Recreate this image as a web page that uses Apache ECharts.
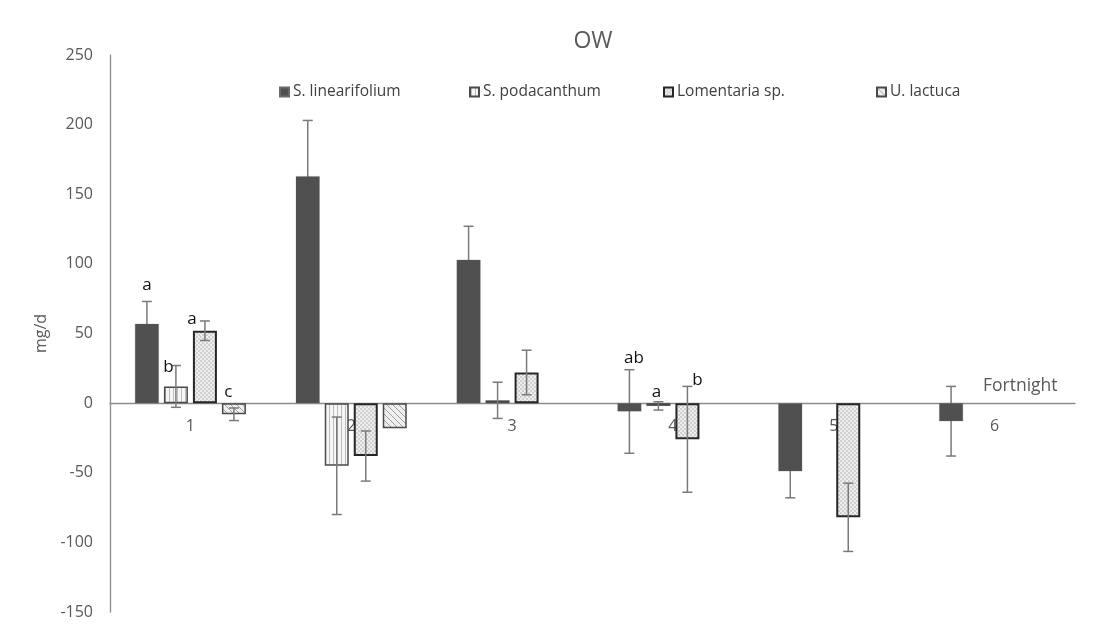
<!DOCTYPE html>
<html>
<head>
<meta charset="utf-8">
<script src="https://cdn.jsdelivr.net/npm/echarts@6/dist/echarts.min.js"></script>
<style>html,body{margin:0;padding:0;background:#fff}#c{width:1102px;height:631px}</style>
</head>
<body>
<div id="c"></div>
<script>
// ---- data ----
const categories = ['1', '2', '3', '4', '5', '6'];
const seriesNames = ['S. linearifolium', 'S. podacanthum', 'Lomentaria sp.', 'U. lactuca'];
const linearifolium = [57, 163, 103, -6, -49, -13];
const linearifoliumErr = [16, 40, 24, 30, 19, 25];
const podacanthum = [12, -45, 2, -2, null, null];
const podacanthumErr = [15, 35, 13, 3, null, null];
const lomentaria = [52, -38, 22, -26, -82, null];
const lomentariaErr = [7, 18, 16, 38, 24.5, null];
const lactuca = [-8, -18, null, null, null, null];
const lactucaErr = [4.5, null, null, null, null, null];
const linearifoliumLetters = ['a', '', '', 'ab', '', ''];
const podacanthumLetters = ['b', '', '', 'a', '', ''];
const lomentariaLetters = ['a', '', '', 'b', '', ''];
const lactucaLetters = ['c', '', '', '', '', ''];
const yTicks = { min: -150, max: 250, interval: 50 };

const values = [linearifolium, podacanthum, lomentaria, lactuca];
const errs = [linearifoliumErr, podacanthumErr, lomentariaErr, lactucaErr];
const letters = [linearifoliumLetters, podacanthumLetters, lomentariaLetters, lactucaLetters];

// ---- styles ----
const BAR_W = 24, GAP = 5;
const GRID = { left: 110, right: 27, top: 55, bottom: 19 };
const letterOffset = { '0-0': [0, -16], '1-0': [-7.5, 2], '2-0': [-13, -2], '3-0': [-5.5, -16],
  '0-3': [4.5, -12], '1-3': [-2, -9.5], '2-3': [10, -6] };

function pattern(kind) {
  const c = document.createElement('canvas');
  const ctx = c.getContext('2d');
  if (kind === 'stripe') {
    c.width = 4; c.height = 4;
    ctx.fillStyle = '#f5f5f5'; ctx.fillRect(0, 0, 4, 4);
    ctx.fillStyle = '#bdbdbd'; ctx.fillRect(1, 0, 1, 4);
  } else if (kind === 'check') {
    c.width = 4; c.height = 4;
    ctx.fillStyle = '#eeeeee'; ctx.fillRect(0, 0, 4, 4);
    ctx.fillStyle = '#d0d0d0'; ctx.fillRect(0, 0, 2, 2); ctx.fillRect(2, 2, 2, 2);
  } else {
    c.width = 6; c.height = 6;
    ctx.fillStyle = '#efefef'; ctx.fillRect(0, 0, 6, 6);
    ctx.strokeStyle = '#a0a0a0'; ctx.lineWidth = 1;
    ctx.beginPath();
    ctx.moveTo(-1, -1); ctx.lineTo(7, 7);
    ctx.moveTo(-1, 5); ctx.lineTo(1, 7);
    ctx.moveTo(5, -1); ctx.lineTo(7, 1);
    ctx.stroke();
  }
  return { image: c, repeat: 'repeat' };
}

const itemStyles = [
  { color: '#505050', borderColor: '#6a6a6a', borderWidth: 0.5, borderType: 'dotted' },
  { color: pattern('stripe'), borderColor: '#4a4a4a', borderWidth: 1.5 },
  { color: pattern('check'), borderColor: '#262626', borderWidth: 2 },
  { color: pattern('diag'), borderColor: '#4a4a4a', borderWidth: 1.5 }
];

const font = '"Open Sans", "Noto Sans", sans-serif';

const barSeries = seriesNames.map((n, i) => ({
  name: n, type: 'bar', data: values[i], barWidth: BAR_W, barGap: (GAP / BAR_W * 100) + '%',
  barCategoryGap: '31%', itemStyle: itemStyles[i], z: 3
}));

function buildErrData(filterFn) {
  const out = [];
  values.forEach((arr, si) => arr.forEach((v, ci) => {
    if (v !== null && filterFn(si)) out.push([ci, v, errs[si][ci] === null ? 0 : errs[si][ci], si]);
  }));
  return out;
}

function letterEl(api, ci, v, e, si) {
  const L = letters[si][ci];
  if (!L) return null;
  const x = api.coord([ci, v])[0] + (si - 1.5) * (BAR_W + GAP);
  const top = api.coord([ci, Math.max(v, v + e)])[1];
  const off = letterOffset[si + '-' + ci] || [0, -14];
  return { type: 'text', x: x + off[0], y: top + off[1],
    style: { text: L, fill: '#111', font: '17px ' + font, align: 'center', verticalAlign: 'middle' } };
}

function renderErr(params, api) {
  const ci = api.value(0), v = api.value(1), e = api.value(2), si = api.value(3);
  const center = api.coord([ci, v]);
  const x = center[0] + (si - 1.5) * (BAR_W + GAP);
  const children = [];
  if (e > 0) {
    const yHi = api.coord([ci, v + e])[1];
    const yLo = api.coord([ci, v - e])[1];
    const st = { stroke: '#7a7a7a', lineWidth: 1.5 };
    children.push({ type: 'line', shape: { x1: x, y1: yHi, x2: x, y2: yLo }, style: st });
    children.push({ type: 'line', shape: { x1: x - 5, y1: yHi, x2: x + 5, y2: yHi }, style: st });
    children.push({ type: 'line', shape: { x1: x - 5, y1: yLo, x2: x + 5, y2: yLo }, style: st });
  }
  if (si !== 0) {
    const t = letterEl(api, ci, v, e, si);
    if (t) children.push(t);
  }
  return { type: 'group', children: children };
}

// dark series error bars sit behind their bars; others in front
const errBehind = { type: 'custom', z: 1, silent: true, clip: false,
  data: buildErrData(si => si === 0), encode: { x: 0, y: 1 }, renderItem: renderErr };
const errFront = { type: 'custom', z: 5, silent: true, clip: false,
  data: buildErrData(si => si !== 0), encode: { x: 0, y: 1 }, renderItem: renderErr };
const letterDark = { type: 'custom', z: 6, silent: true, clip: false,
  data: buildErrData(si => si === 0), encode: { x: 0, y: 1 },
  renderItem: function (params, api) {
    return letterEl(api, api.value(0), api.value(1), api.value(2), api.value(3));
  } };

const legendLefts = [279, 469, 663, 876];
const legends = seriesNames.map((n, i) => ({
  data: [n], left: legendLefts[i], top: 84, itemWidth: 9, itemHeight: 9, itemGap: 5, padding: 0,
  icon: 'rect', selectedMode: false,
  textStyle: { color: '#404040', fontSize: 15.5, fontFamily: font, padding: [0, 0, 0, -1] }
}));

const plotH = 631 - GRID.top - GRID.bottom;
const zeroFromBottom = plotH * (0 - yTicks.min) / (yTicks.max - yTicks.min);

const chart = echarts.init(document.getElementById('c'), null, { renderer: 'canvas' });
chart.setOption({
  animation: false,
  backgroundColor: '#fff',
  title: { text: 'OW', left: 588, top: 25, textAlign: 'center',
    textStyle: { color: '#595959', fontSize: 23, fontWeight: 'normal', fontFamily: font } },
  legend: legends,
  grid: Object.assign({ containLabel: false, outerBoundsMode: 'none' }, GRID),
  xAxis: {
    type: 'category', data: categories, position: 'bottom', offset: -zeroFromBottom,
    name: 'Fortnight', nameLocation: 'end', nameGap: -92,
    nameTextStyle: { color: '#595959', fontSize: 17.5, fontFamily: font, verticalAlign: 'bottom', padding: [0, 0, 8, 0] },
    axisLine: { onZero: false, lineStyle: { color: '#8c8c8c', width: 1.3 } },
    axisTick: { show: false },
    axisLabel: { color: '#595959', fontSize: 16, fontFamily: font, margin: 15 },
    splitLine: { show: false }
  },
  yAxis: {
    type: 'value', min: yTicks.min, max: yTicks.max, interval: yTicks.interval,
    name: 'mg/d', nameLocation: 'middle', nameGap: 60, nameRotate: 90,
    nameTextStyle: { color: '#595959', fontSize: 16, fontFamily: font },
    axisLine: { show: true, lineStyle: { color: '#8c8c8c', width: 1.3 } },
    axisTick: { show: false },
    axisLabel: { color: '#595959', fontSize: 16, fontFamily: font, margin: 17 },
    splitLine: { show: false }
  },
  series: barSeries.concat([errBehind, errFront, letterDark])
});
</script>
</body>
</html>
